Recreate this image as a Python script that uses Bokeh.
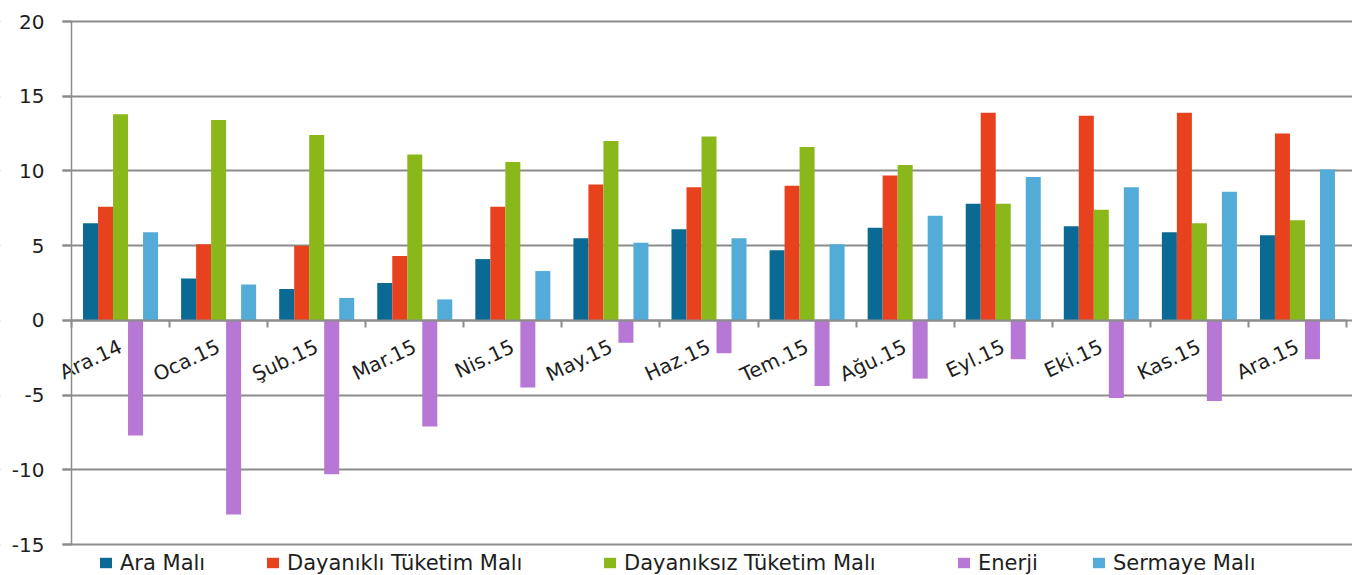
from bokeh.plotting import figure
from bokeh.models import (ColumnDataSource, Range1d, LinearAxis, BoxAnnotation,
                          FixedTicker, Legend, LegendItem, CustomJSTickFormatter)
from bokeh.transform import dodge
from bokeh.embed import file_html
from bokeh.resources import INLINE

months = ["Ara.14", "Oca.15", "Şub.15", "Mar.15", "Nis.15", "May.15", "Haz.15",
          "Tem.15", "Ağu.15", "Eyl.15", "Eki.15", "Kas.15", "Ara.15"]
ara_mali = [6.5, 2.8, 2.1, 2.5, 4.1, 5.5, 6.1, 4.7, 6.2, 7.8, 6.3, 5.9, 5.7]
dayanikli = [7.6, 5.1, 5.0, 4.3, 7.6, 9.1, 8.9, 9.0, 9.7, 13.9, 13.7, 13.9, 12.5]
dayaniksiz = [13.8, 13.4, 12.4, 11.1, 10.6, 12.0, 12.3, 11.6, 10.4, 7.8, 7.4, 6.5, 6.7]
enerji = [-7.7, -13.0, -10.3, -7.1, -4.5, -1.5, -2.2, -4.4, -3.9, -2.6, -5.2, -5.4, -2.6]
sermaye = [5.9, 2.4, 1.5, 1.4, 3.3, 5.2, 5.5, 5.1, 7.0, 9.6, 8.9, 8.6, 10.1]

series_names = ["Ara Malı", "Dayanıklı Tüketim Malı", "Dayanıksız Tüketim Malı",
                "Enerji", "Sermaye Malı"]
series_cols = ["ara", "dayanikli", "dayaniksiz", "enerji", "sermaye"]
colors = ["#0b6a93", "#e8411e", "#8ab81a", "#b777d4", "#53acd8"]
y_ticks = list(range(-15, 21, 5))

n = len(months)
centers = [i + 0.5 for i in range(n)]
src = ColumnDataSource(dict(xc=centers, month=months, ara=ara_mali, dayanikli=dayanikli,
                            dayaniksiz=dayaniksiz, enerji=enerji, sermaye=sermaye))

TEXT = "#1e1e1e"
GRID = "#8c8c8c"
FONT = "DejaVu Sans"

# layout geometry (pixels)
W, H = 1352, 575
AX_LEFT, AX_RIGHT = 71, 1346          # plot-area edges
Y20, YM15 = 21, 544                    # pixel rows of 20 and -15
ux = (AX_RIGHT - AX_LEFT) / n          # px per category
uy = (YM15 - Y20) / 35.0               # px per unit
x0 = -AX_LEFT / ux
x1 = n + (W - AX_RIGHT) / ux
y_top = 20 + Y20 / uy
y_bot = 20 - (H - Y20) / uy

p = figure(x_range=Range1d(x0, x1), y_range=Range1d(y_bot, y_top),
           width=W, height=H, output_backend="svg", toolbar_location=None,
           min_border=0, min_border_left=0, min_border_right=0,
           min_border_top=0, min_border_bottom=0)
p.outline_line_color = None
p.background_fill_color = "white"
p.border_fill_color = "white"

# grid
p.xgrid.visible = False
p.ygrid.ticker = FixedTicker(ticks=y_ticks)
p.ygrid.grid_line_color = GRID
p.ygrid.grid_line_width = 2

# white mask left of the tick marks so grid lines start at the tick ends
mask = BoxAnnotation(left=x0, right=-9 / ux, fill_color="white", fill_alpha=1,
                     line_color=None, level="underlay")
p.add_layout(mask)

bw = 0.153
renderers = []
for j, (col, c) in enumerate(zip(series_cols, colors)):
    r = p.vbar(x=dodge("xc", (j - 2) * bw, range=p.x_range), top=col, width=bw,
               source=src, fill_color=c, line_color=None)
    renderers.append(r)

# y axis at x=0
ya = p.yaxis[0]
ya.fixed_location = 0
ya.ticker = FixedTicker(ticks=y_ticks)
ya.bounds = (-15, 20)
ya.formatter = CustomJSTickFormatter(code="return tick.toString()")
ya.major_tick_out = 9
ya.major_tick_in = 0
ya.minor_tick_line_color = None
ya.major_tick_line_color = GRID
ya.major_tick_line_width = 2
ya.axis_line_color = GRID
ya.axis_line_width = 1.5
ya.major_label_standoff = 18
ya.major_label_text_font = FONT
ya.major_label_text_font_size = "20px"
ya.major_label_text_color = TEXT

# boundary ticks axis at y=0 (default x axis)
xa = p.xaxis[0]
xa.ticker = FixedTicker(ticks=list(range(n + 1)))
xa.bounds = (0, n)
xa.formatter = CustomJSTickFormatter(code="return ''")
xa.fixed_location = 0
xa.major_tick_out = 7
xa.major_tick_in = 0
xa.minor_tick_line_color = None
xa.major_tick_line_color = GRID
xa.major_tick_line_width = 2
xa.axis_line_color = GRID
xa.axis_line_width = 2

# category labels axis at y=0
lax = LinearAxis(ticker=FixedTicker(ticks=centers),
                 formatter=CustomJSTickFormatter(args=dict(labels=months),
                                                 code="return labels[Math.floor(tick)]"))
lax.fixed_location = 0
lax.major_tick_out = 0
lax.major_tick_in = 0
lax.major_tick_line_color = None
lax.minor_tick_line_color = None
lax.axis_line_color = None
lax.major_label_orientation = 0.44
lax.major_label_standoff = 25
lax.major_label_text_font = FONT
lax.major_label_text_font_size = "20px"
lax.major_label_text_color = TEXT
p.add_layout(lax, "below")

# legend: one entry per box so each key sits where the reference has it
legend_x = [98, 265, 602, 956, 1091]
for nm, r, lx in zip(series_names, renderers, legend_x):
    lg = Legend(items=[LegendItem(label=nm, renderers=[r])],
                orientation="horizontal", location=(lx, 0),
                glyph_width=15, glyph_height=13, label_standoff=7, spacing=0,
                padding=0, margin=0, border_line_color=None, background_fill_alpha=0,
                label_text_font=FONT, label_text_font_size="21px",
                label_text_color=TEXT, label_height=25)
    p.add_layout(lg, "center")

open("out.html", "w").write(file_html(p, INLINE))
